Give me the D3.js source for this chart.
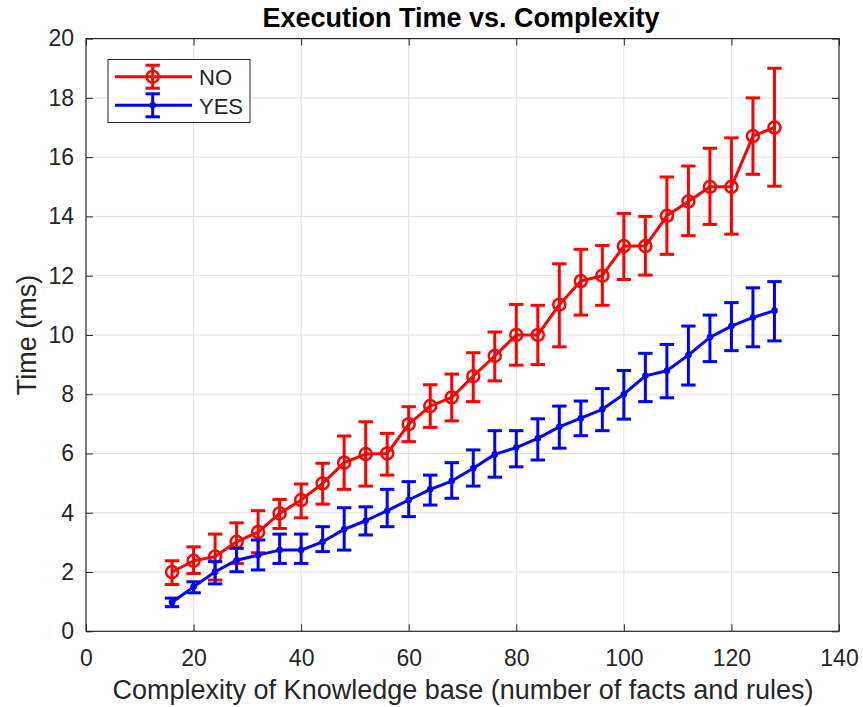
<!DOCTYPE html>
<html>
<head>
<meta charset="utf-8">
<script src="https://cdn.jsdelivr.net/npm/d3@7"></script>
<style>
  body { margin: 0; background: #fff; }
  svg { display: block; font-family: "Liberation Sans", Arial, sans-serif; }
</style>
</head>
<body>
<svg id="chart" width="863" height="707"></svg>
<script>
// complexity values (x)
const complexity = [16, 20, 24, 28, 32, 36, 40, 44, 48, 52, 56, 60, 64, 68, 72, 76, 80, 84, 88, 92, 96, 100, 104, 108, 112, 116, 120, 124, 128];

// NO series: mean, lower and upper error bar ends
const noMean = [2.0, 2.38, 2.52, 3.02, 3.35, 3.98, 4.43, 4.99, 5.69, 5.98, 6.0, 6.99, 7.6, 7.89, 8.61, 9.29, 10.0, 10.0, 11.02, 11.82, 12.0, 13.0, 13.0, 14.02, 14.5, 15.0, 15.0, 16.71, 17.0];
const noLow = [1.58, 1.95, 1.73, 2.29, 2.65, 3.47, 3.83, 4.29, 4.79, 4.9, 5.27, 6.4, 6.88, 7.1, 7.75, 8.45, 8.98, 9.0, 9.6, 10.67, 11.0, 11.87, 12.02, 12.72, 13.35, 13.73, 13.4, 15.42, 15.02];
const noHigh = [2.38, 2.85, 3.28, 3.66, 4.07, 4.45, 4.97, 5.67, 6.59, 7.07, 6.68, 7.58, 8.32, 8.68, 9.4, 10.1, 11.03, 11.0, 12.4, 12.89, 13.02, 14.1, 14.0, 15.33, 15.7, 16.3, 16.65, 18.0, 19.0];

// YES series
const yesMean = [0.98, 1.5, 2.01, 2.4, 2.57, 2.74, 2.74, 3.02, 3.44, 3.73, 4.07, 4.43, 4.79, 5.07, 5.5, 5.97, 6.2, 6.51, 6.9, 7.19, 7.49, 8.0, 8.62, 8.79, 9.32, 9.92, 10.3, 10.59, 10.82];
const yesLow = [0.83, 1.3, 1.6, 2.01, 2.07, 2.29, 2.29, 2.69, 2.74, 3.25, 3.53, 3.87, 4.26, 4.49, 4.9, 5.2, 5.55, 5.78, 6.18, 6.6, 6.77, 7.16, 7.75, 7.88, 8.31, 9.1, 9.47, 9.6, 9.8];
const yesHigh = [1.12, 1.67, 2.35, 2.8, 3.08, 3.28, 3.28, 3.53, 4.17, 4.2, 4.79, 5.05, 5.27, 5.69, 6.12, 6.77, 6.77, 7.17, 7.6, 7.77, 8.19, 8.8, 9.38, 9.68, 10.3, 10.67, 11.09, 11.59, 11.8];

const xTicks = [0, 20, 40, 60, 80, 100, 120, 140];
const yTicks = [0, 2, 4, 6, 8, 10, 12, 14, 16, 18, 20];

const svg = d3.select("#chart");
const axisColor = "#262626";

const x = d3.scaleLinear().domain([0, 140]).range([86, 839]);
const y = d3.scaleLinear().domain([0, 20]).range([631.3, 38.6]);

//grid
svg.append("g").selectAll("line").data(xTicks.slice(1, -1)).enter().append("line")
    .attr("x1", d => x(d)).attr("x2", d => x(d))
    .attr("y1", y(0)).attr("y2", y(20))
    .attr("stroke", "#dfdfdf").attr("stroke-width", 1);
svg.append("g").selectAll("line").data(yTicks.slice(1, -1)).enter().append("line")
    .attr("x1", x(0)).attr("x2", x(140))
    .attr("y1", d => y(d)).attr("y2", d => y(d))
    .attr("stroke", "#dfdfdf").attr("stroke-width", 1);

//axes (ticks inside, box on)
function styleAxis(g) {
    g.select(".domain").remove();
    g.selectAll(".tick line").attr("stroke", axisColor).attr("stroke-width", 1);
    g.selectAll(".tick text").attr("fill", axisColor).attr("font-size", 23)
        .attr("font-family", "Liberation Sans, Arial, sans-serif");
}
svg.append("g").attr("transform", `translate(0,${y(0)})`)
    .call(d3.axisBottom(x).tickValues(xTicks).tickSize(-7).tickPadding(12))
    .call(styleAxis)
    .selectAll(".tick text").attr("dy", "0.71em").attr("y", 18);
svg.append("g").attr("transform", `translate(0,${y(20)})`)
    .call(d3.axisTop(x).tickValues(xTicks).tickSize(-7).tickFormat(""))
    .call(styleAxis);
svg.append("g").attr("transform", `translate(${x(0)},0)`)
    .call(d3.axisLeft(y).tickValues(yTicks).tickSize(-7).tickPadding(13))
    .call(styleAxis)
    .selectAll(".tick text").attr("x", -12);
svg.append("g").attr("transform", `translate(${x(140)},0)`)
    .call(d3.axisRight(y).tickValues(yTicks).tickSize(-7).tickFormat(""))
    .call(styleAxis);

svg.append("rect")
    .attr("x", x(0)).attr("y", y(20))
    .attr("width", x(140) - x(0)).attr("height", y(0) - y(20))
    .attr("fill", "none").attr("stroke", axisColor).attr("stroke-width", 1.2);

//series
const series = [
    { name: "NO", color: "#ff0000", mean: noMean, low: noLow, high: noHigh, marker: "circle" },
    { name: "YES", color: "#0000ff", mean: yesMean, low: yesLow, high: yesHigh, marker: "dot" }
];
const capHalf = 7.2;

series.forEach(s => {
    const pts = complexity.map((c, i) => ({ c: c, m: s.mean[i], lo: s.low[i], hi: s.high[i] }));
    const g = svg.append("g");

    g.append("path").datum(pts)
        .attr("d", d3.line().x(d => x(d.c)).y(d => y(d.m)))
        .attr("fill", "none").attr("stroke", s.color).attr("stroke-width", 3)
        .attr("stroke-linejoin", "round");

    const eb = g.selectAll(".eb").data(pts).enter().append("g");
    eb.append("line")
        .attr("x1", d => x(d.c)).attr("x2", d => x(d.c))
        .attr("y1", d => y(d.lo)).attr("y2", d => y(d.hi));
    eb.append("line")
        .attr("x1", d => x(d.c) - capHalf).attr("x2", d => x(d.c) + capHalf)
        .attr("y1", d => y(d.lo)).attr("y2", d => y(d.lo));
    eb.append("line")
        .attr("x1", d => x(d.c) - capHalf).attr("x2", d => x(d.c) + capHalf)
        .attr("y1", d => y(d.hi)).attr("y2", d => y(d.hi));
    eb.selectAll("line").attr("stroke", s.color).attr("stroke-width", 3);

    if (s.marker === "circle") {
        g.selectAll("circle").data(pts).enter().append("circle")
            .attr("cx", d => x(d.c)).attr("cy", d => y(d.m)).attr("r", 6)
            .attr("fill", "none").attr("stroke", s.color).attr("stroke-width", 2.5);
    } else {
        g.selectAll("circle").data(pts).enter().append("circle")
            .attr("cx", d => x(d.c)).attr("cy", d => y(d.m)).attr("r", 3.3)
            .attr("fill", s.color);
    }
});

//legend
const legend = svg.append("g");
legend.append("rect")
    .attr("x", 108).attr("y", 59.5).attr("width", 142).attr("height", 63)
    .attr("fill", "#fff").attr("stroke", axisColor).attr("stroke-width", 1);
series.forEach((s, i) => {
    const ly = 76.7 + i * 28.6;
    const lx = 152.7;
    const l = legend.append("g");
    l.append("line").attr("x1", 115).attr("x2", 192).attr("y1", ly).attr("y2", ly);
    l.append("line").attr("x1", lx).attr("x2", lx).attr("y1", ly - 11.5).attr("y2", ly + 11.5);
    l.append("line").attr("x1", lx - capHalf).attr("x2", lx + capHalf).attr("y1", ly - 11.5).attr("y2", ly - 11.5);
    l.append("line").attr("x1", lx - capHalf).attr("x2", lx + capHalf).attr("y1", ly + 11.5).attr("y2", ly + 11.5);
    l.selectAll("line").attr("stroke", s.color).attr("stroke-width", 3);
    if (s.marker === "circle") {
        l.append("circle").attr("cx", lx).attr("cy", ly).attr("r", 6)
            .attr("fill", "none").attr("stroke", s.color).attr("stroke-width", 2.5);
    } else {
        l.append("circle").attr("cx", lx).attr("cy", ly).attr("r", 3.3).attr("fill", s.color);
    }
    l.append("text").text(s.name)
        .attr("x", 199).attr("y", ly + 8.3)
        .attr("font-size", 22).attr("fill", axisColor);
});

//labels
svg.append("text").text("Execution Time vs. Complexity")
    .attr("x", 461).attr("y", 27).attr("text-anchor", "middle")
    .attr("font-size", 27).attr("font-weight", "bold").attr("fill", "#000");
svg.append("text").text("Complexity of Knowledge base (number of facts and rules)")
    .attr("x", 463).attr("y", 699).attr("text-anchor", "middle")
    .attr("font-size", 27).attr("fill", axisColor);
svg.append("text").text("Time (ms)")
    .attr("transform", "translate(36,335) rotate(-90)").attr("text-anchor", "middle")
    .attr("font-size", 27).attr("fill", axisColor);
</script>
</body>
</html>
